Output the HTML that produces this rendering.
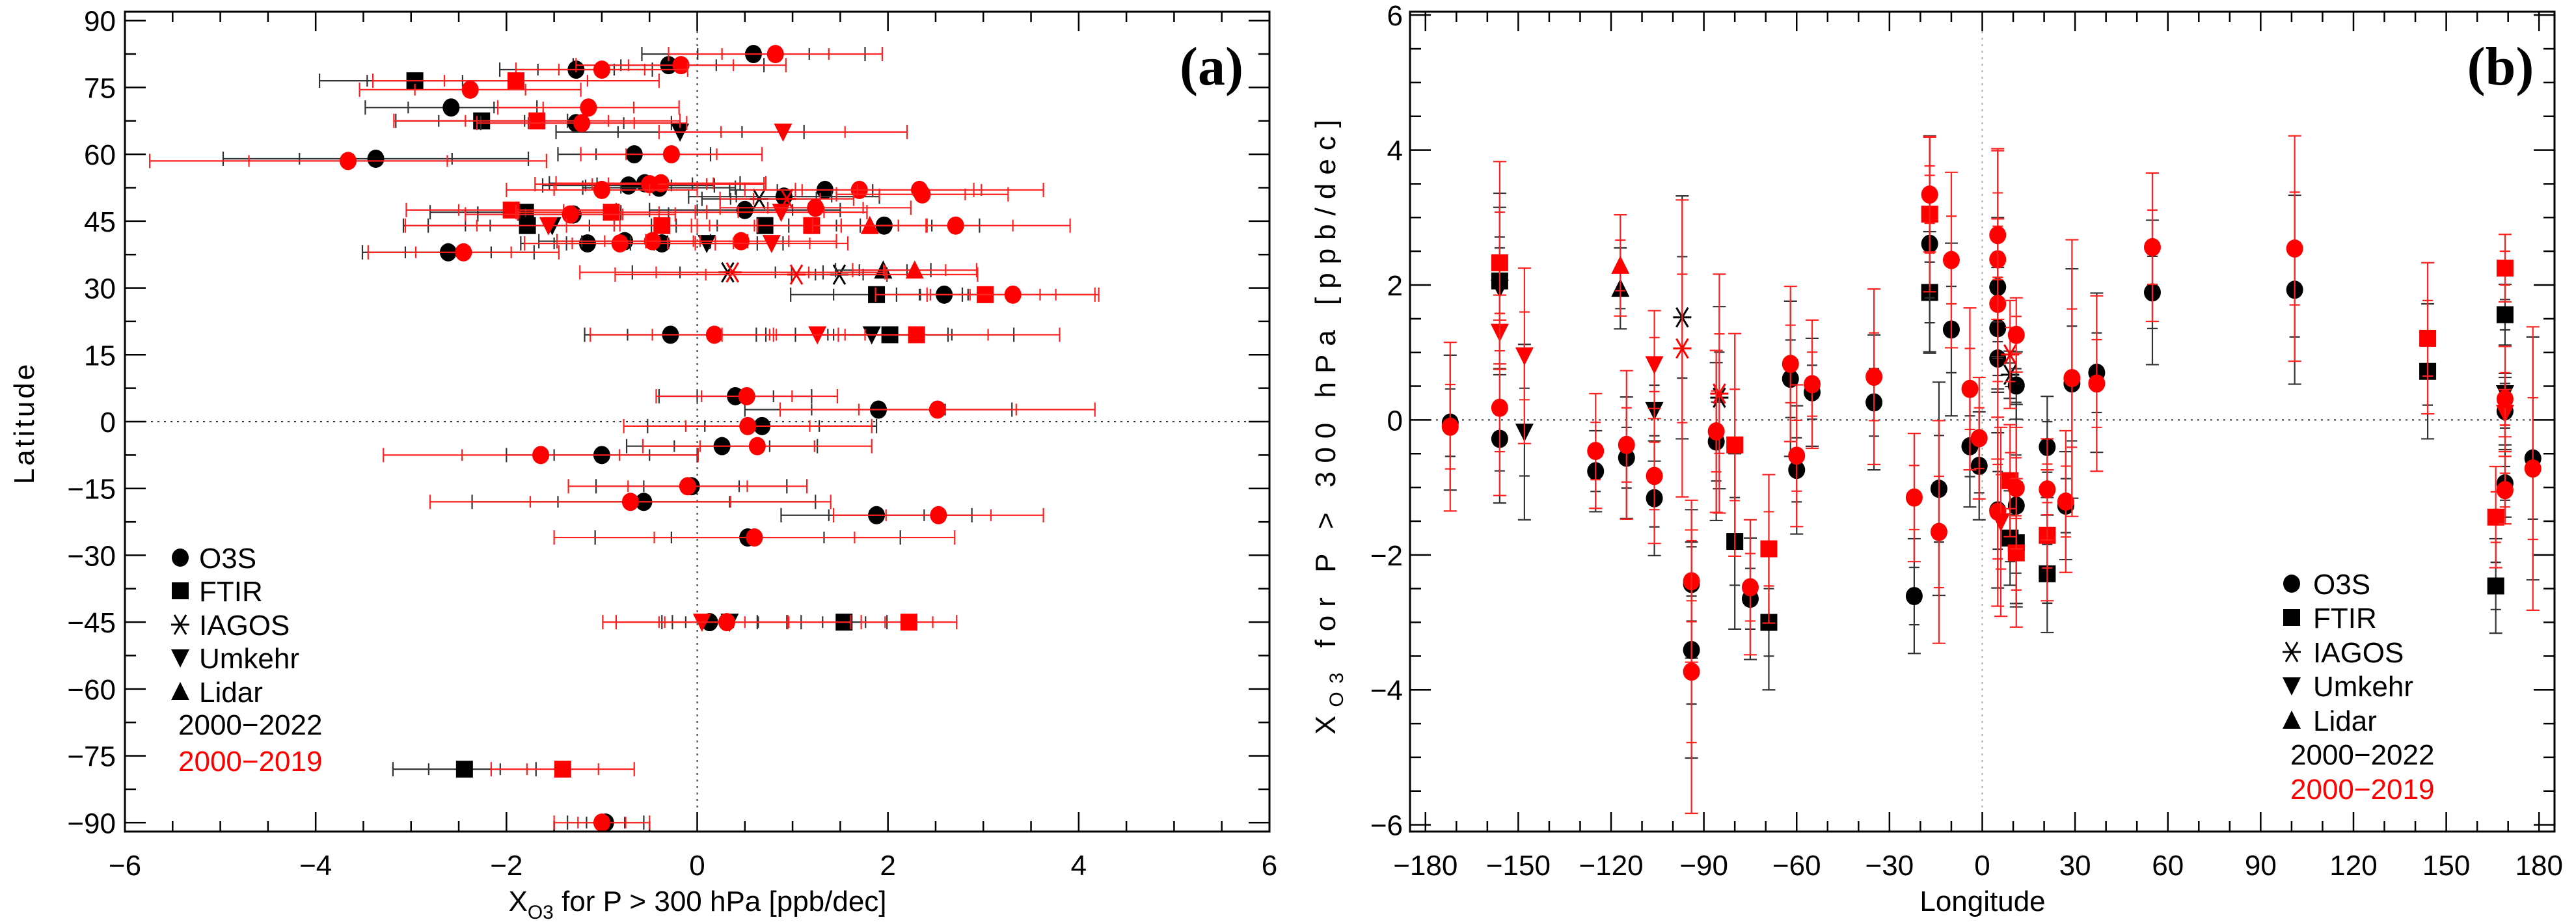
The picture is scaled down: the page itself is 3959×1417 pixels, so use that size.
<!DOCTYPE html>
<html><head><meta charset="utf-8"><style>
html,body{margin:0;padding:0;background:#fff;}
svg{display:block;font-family:"Liberation Sans",sans-serif;}
</style></head><body>
<svg id="chart" width="3959" height="1417" viewBox="0 0 3959 1417" xmlns="http://www.w3.org/2000/svg">
<g id="pa"></g>
<g id="pb"></g>
</svg>
<script>
// ---------- Panel (a) data ----------
const aLat=[82.5,82.5,80,80,79,79,76.5,76.5,74.5,70.5,70.5,67.5,67.5,67,67,65,65,59,58.5,60,60,53,53.5,53.5,53.3,52.5,52,52,52,52,51,50,50,50.5,47.5,47.5,47,47,47,48,46.5,46.5,44,44,44,44,44,44,44,44,44,40,40.5,40,40.5,40,40,40.5,40,38,38,33.5,33.5,33,33,34,34,28.5,28.5,28.5,28.5,19.5,19.5,19.5,19.5,19.5,19.5,5.7,5.7,2.7,2.7,-1,-1,-5.5,-5.5,-7.5,-7.5,-14.5,-14.5,-18,-18,-21,-21,-26,-26,-45,-45,-45,-45,-45,-45,-78,-78,-90,-90];
const aVal=[0.59,0.82,-0.30,-0.17,-1.27,-1.0,-2.96,-1.9,-2.38,-2.58,-1.14,-2.26,-1.68,-1.27,-1.21,-0.18,0.9,-3.37,-3.66,-0.66,-0.27,-0.72,-0.55,-0.38,-0.5,-0.4,1.34,-1.0,1.70,2.33,2.36,0.65,0.94,0.91,0.5,-1.95,-1.8,-0.9,0.88,1.24,-1.3,-1.33,-1.78,-1.52,-1.56,-0.37,0.71,1.2,1.81,1.96,2.71,-1.15,-0.76,-0.81,-0.47,-0.37,0.1,0.46,0.78,-2.61,-2.45,0.32,0.37,1.04,1.49,1.95,2.28,1.88,2.59,3.02,3.31,-0.28,0.18,1.26,1.83,2.02,2.3,0.4,0.52,1.9,2.52,0.68,0.53,0.26,0.63,-1.0,-1.64,-0.06,-0.1,-0.56,-0.7,1.88,2.53,0.53,0.6,0.05,0.34,0.13,0.31,1.54,2.22,-2.44,-1.41,-0.96,-1.0];
const aErr=[1.17,1.12,1.0,1.1,0.8,0.9,1.0,1.5,1.16,0.9,0.95,0.9,1.5,1.0,1.1,1.3,1.3,1.6,2.08,0.8,0.95,0.9,1.0,1.1,1.2,0.8,1.0,1.0,1.2,1.3,0.9,0.6,0.7,1.0,1.0,1.1,1.0,1.0,0.9,1.0,1.0,1.1,1.3,1.3,1.5,1.0,1.0,1.2,0.6,1.0,1.2,0.7,0.9,1.0,1.0,1.0,0.8,1.0,0.8,0.9,1.0,1.0,1.6,1.9,0.5,0.5,0.65,0.9,0.5,1.15,0.9,0.9,1.3,1.0,0.8,1.3,1.5,0.8,0.95,1.4,1.65,1.2,1.3,1.0,1.2,1.0,1.65,1.0,1.25,1.8,2.1,1.0,1.1,1.6,2.1,0.9,0.6,0.5,1.3,0.45,0.5,0.75,0.75,0.4,0.5];
const aType=["c","c","c","c","c","c","s","s","c","c","c","s","s","c","c","d","d","c","c","c","c","c","c","c","c","c","c","c","c","c","c","x","x","c","c","s","s","s","d","c","c","c","s","d","d","s","s","s","t","c","c","c","c","c","c","c","d","c","d","c","c","x","x","x","x","t","t","s","c","s","c","c","c","d","d","s","s","c","c","c","c","c","c","c","c","c","c","c","c","c","c","c","c","c","c","d","d","c","c","s","s","s","s","c","c"];
const aCol=["k","r","k","r","k","r","k","r","r","k","r","k","r","k","r","k","r","k","r","k","r","k","k","r","r","k","k","r","r","r","r","k","r","k","k","r","k","r","r","r","k","r","k","k","r","r","k","r","r","k","r","k","k","r","r","k","k","r","r","k","r","k","r","r","k","k","r","k","k","r","r","k","r","r","k","k","r","k","r","k","r","k","r","k","r","k","r","k","r","k","r","k","r","k","r","r","k","k","r","k","r","k","r","k","r"];
const aXTicks=[-6,-4,-2,0,2,4,6];
const aYTicks=[90,75,60,45,30,15,0,-15,-30,-45,-60,-75,-90];

// ---------- Panel (b) data ----------
const bLon=[-172,-172,-156,-156,-156,-156,-156,-156,-148,-148,-117,-117,-125,-125,-115,-115,-106,-106,-106,-106,-97,-97,-94,-94,-94,-94,-85,-85,-86,-86,-80,-80,-75,-75,-69,-69,-62,-62,-60,-60,-55,-55,-35,-35,-22,-22,-17,-17,-17,-17,-14,-14,-10,-10,-4,-4,-1,-1,5,5,5,5,5,5,5,5,6,9,9,9,9,11,11,11,11,11,11,21,21,21,21,27,27,29,29,37,37,55,55,101,101,144,144,166,166,169,169,169,169,169,169,169,169,178,178];
const bVal=[-0.04,-0.1,2.06,1.95,2.33,1.3,-0.28,0.18,-0.18,0.95,1.95,2.29,-0.76,-0.46,-0.56,-0.37,0.14,0.82,-1.16,-0.83,1.52,1.06,-2.43,-2.39,-3.41,-3.73,0.33,0.39,-0.32,-0.17,-1.8,-0.37,-2.65,-2.48,-3.0,-1.91,0.61,0.83,-0.74,-0.53,0.41,0.53,0.26,0.64,-2.61,-1.15,1.89,3.05,2.61,3.34,-1.02,-1.66,1.34,2.37,-0.39,0.46,-0.68,-0.27,0.91,2.38,1.36,1.97,1.72,2.74,-1.34,-1.36,-1.51,-0.9,-1.75,0.67,0.97,0.51,1.26,-1.82,-1.97,-1.27,-1.01,-2.28,-1.71,-0.4,-1.03,-1.27,-1.21,0.54,0.62,0.7,0.54,1.89,2.56,1.93,2.54,0.72,1.21,-2.46,-1.44,1.56,2.25,0.39,0.1,0.13,0.31,-0.94,-1.04,-0.57,-0.72];
const bErr=[1.0,1.25,1.3,1.2,1.5,0.55,0.95,1.3,1.3,1.3,0.6,0.75,0.6,0.85,0.9,1.1,0.75,0.8,0.85,1.0,1.8,2.2,1.1,1.2,1.6,2.1,1.35,1.77,1.17,1.2,1.3,1.65,0.9,1.0,1.0,1.1,1.15,1.15,0.95,1.05,0.8,0.95,1.0,1.3,0.85,0.95,0.9,1.15,1.6,0.85,1.58,1.65,1.28,1.3,0.9,1.2,0.8,0.9,0.5,0.6,0.9,1.03,2.3,1.25,1.15,1.4,1.4,0.83,0.7,0.35,0.8,0.5,0.55,0.9,1.1,1.5,0.9,0.87,0.97,0.75,0.75,0.8,1.05,1.7,2.05,1.18,1.3,1.07,1.1,1.4,1.67,1.0,1.12,0.7,0.75,0.45,0.5,0.3,0.35,0.5,0.78,0.5,0.5,1.8,2.1];
const bType=["c","c","s","d","s","d","c","c","d","d","t","t","c","c","c","c","d","d","c","c","x","x","c","c","c","c","x","x","c","c","s","s","c","c","s","s","c","c","c","c","c","c","c","c","c","c","s","s","c","c","c","c","c","c","c","c","c","c","c","c","c","c","c","c","c","c","d","s","s","x","x","c","c","s","s","c","c","s","s","c","c","c","c","c","c","c","c","c","c","c","c","s","s","s","s","s","s","d","d","c","c","c","c","c","c"];
const bCol=["k","r","k","k","r","r","k","r","k","r","k","r","k","r","k","r","k","r","k","r","k","r","k","r","k","r","k","r","k","r","k","r","k","r","k","r","k","r","k","r","k","r","k","r","k","r","k","r","k","r","k","r","k","r","k","r","k","r","k","r","k","k","r","r","k","r","r","r","k","k","r","k","r","k","r","k","r","k","r","k","r","k","r","k","r","k","r","k","r","k","r","k","r","k","r","k","r","k","r","k","r","k","r","k","r"];
const bXTicks=[-180,-150,-120,-90,-60,-30,0,30,60,90,120,150,180];
const bYTicks=[-6,-4,-2,0,2,4,6];

const NS="http://www.w3.org/2000/svg";
function mk(parent,tag,attrs){const e=document.createElementNS(NS,tag);for(const k in attrs)e.setAttribute(k,attrs[k]);parent.appendChild(e);return e;}
const COL={k:"#000000",r:"#ff0000"};
const EB={k:"#333333",r:"#ff2020"};

function marker(g,type,cx,cy,col){
  let el;
  if(type==="c"){el=mk(g,"ellipse",{cx:cx,cy:cy,rx:13,ry:14,fill:col});}
  else if(type==="s"){el=mk(g,"rect",{x:cx-13,y:cy-13,width:26,height:26,fill:col});}
  else if(type==="d"){el=mk(g,"polygon",{points:`${cx-14},${cy-13} ${cx+14},${cy-13} ${cx},${cy+15}`,fill:col});}
  else if(type==="t"){el=mk(g,"polygon",{points:`${cx-14},${cy+13} ${cx+14},${cy+13} ${cx},${cy-15}`,fill:col});}
  else {el=mk(g,"g",{stroke:col,"stroke-width":3});
    mk(el,"line",{x1:cx-14,y1:cy,x2:cx+14,y2:cy});
    mk(el,"line",{x1:cx-9,y1:cy-15,x2:cx+9,y2:cy+15});
    mk(el,"line",{x1:cx+9,y1:cy-15,x2:cx-9,y2:cy+15});}
  return el;
}

function frame(g,L,R,T,B){
  const f=mk(g,"rect",{x:L,y:T,width:R-L,height:B-T,fill:"none",stroke:"#000","stroke-width":3});
  
  
}
function txt(g,x,y,s,attrs,name){
  const t=mk(g,"text",Object.assign({x:x,y:y,"font-size":44,fill:"#000"},attrs||{}));
  t.textContent=s;
  
  
  return t;
}

// ================== Panel A ==================
(function(){
  const g=document.getElementById("pa");
  const L=192,R=1951,T=18,B=1278;
  const xMin=-6,xMax=6,yMin=-92,yMax=92;
  const X=v=>L+(v-xMin)/(xMax-xMin)*(R-L);
  const Y=v=>B-(v-yMin)/(yMax-yMin)*(B-T);
  const z1=mk(g,"line",{x1:L,x2:R,y1:Y(0),y2:Y(0),stroke:"#333","stroke-width":2,"stroke-dasharray":"3,7"});
  
  
  const z2=mk(g,"line",{x1:X(0),x2:X(0),y1:T,y2:B,stroke:"#333","stroke-width":2,"stroke-dasharray":"3,7"});
  
  
  const tg=mk(g,"g",{stroke:"#000","stroke-width":2.5});
  
  
  for(let v=-6;v<=6.001;v+=0.5){const maj=Math.abs(v-Math.round(v/2)*2)<1e-6;const len=maj?30:16;
    mk(tg,"line",{x1:X(v),x2:X(v),y1:B,y2:B-len});mk(tg,"line",{x1:X(v),x2:X(v),y1:T,y2:T+len});}
  for(let v=-90;v<=90;v+=7.5){const maj=(v%15===0);const len=maj?32:17;
    mk(tg,"line",{x1:L,x2:L+len,y1:Y(v),y2:Y(v)});mk(tg,"line",{x1:R,x2:R-len,y1:Y(v),y2:Y(v)});}
  aXTicks.forEach(v=>{txt(g,X(v),1345,String(v).replace("-","\u2212"),{"text-anchor":"middle"},"x-tick-label");});
  aYTicks.forEach(v=>{txt(g,178,Y(v)+16,String(v).replace("-","\u2212"),{"text-anchor":"end"},"y-tick-label");});
  const order=[];aCol.forEach((c,i)=>{if(c==="k")order.push(i);});aCol.forEach((c,i)=>{if(c==="r")order.push(i);});
  order.forEach(i=>{
    const y=Y(aLat[i]),x=X(aVal[i]),c=aCol[i];
    const eg=mk(g,"g",{stroke:EB[c],"stroke-width":2.2});
    
    
    const x1=X(aVal[i]-aErr[i]),x2=X(aVal[i]+aErr[i]);
    mk(eg,"line",{x1:x1,x2:x2,y1:y,y2:y});
    [x1,x2].forEach(xx=>mk(eg,"line",{x1:xx,x2:xx,y1:y-11,y2:y+11}));
    [X(aVal[i]-aErr[i]*0.5),X(aVal[i]+aErr[i]*0.5)].forEach(xx=>mk(eg,"line",{x1:xx,x2:xx,y1:y-9,y2:y+9}));
    const m=marker(g,aType[i],x,y,COL[c]);
    
    
  });
  frame(g,L,R,T,B);
  txt(g,0,0,"Latitude",{"text-anchor":"middle",transform:"translate(52,650) rotate(-90)","letter-spacing":"4"},"y-axis-title");
  const xt=mk(g,"text",{x:1072,y:1400,"font-size":44,"text-anchor":"middle",fill:"#000"});
  xt.innerHTML='X<tspan font-size="30" dy="12">O3</tspan><tspan dy="-12"> for P &gt; 300 hPa [ppb/dec]</tspan>';
  
  
  txt(g,1862,130,"(a)",{"font-family":"Liberation Serif, serif","font-weight":"bold","font-size":84,"text-anchor":"middle"},"panel-label-a");
  const lg=mk(g,"g",{});
  
  
  const lt=["c","s","x","d","t"],ln=["O3S","FTIR","IAGOS","Umkehr","Lidar"],ly=[857,908,960,1011,1063];
  lt.forEach((t,k)=>{const m=marker(lg,t,277,ly[k],"#000");
    txt(lg,306,ly[k]+16,ln[k],{},"legend-entry");});
  txt(lg,274,1129,"2000\u22122022",{},"legend-period-black");
  txt(lg,274,1185,"2000\u22122019",{fill:"#ff0000"},"legend-period-red");
})();

// ================== Panel B ==================
(function(){
  const g=document.getElementById("pb");
  const L=2167,R=3926,T=18,B=1278;
  const xMin=-185,xMax=185,yMin=-6.1,yMax=6.05;
  const X=v=>L+(v-xMin)/(xMax-xMin)*(R-L);
  const Y=v=>B-(v-yMin)/(yMax-yMin)*(B-T);
  const z1=mk(g,"line",{x1:L,x2:R,y1:Y(0),y2:Y(0),stroke:"#333","stroke-width":2,"stroke-dasharray":"3,7"});
  
  
  const z2=mk(g,"line",{x1:X(0),x2:X(0),y1:T,y2:B,stroke:"#aaa","stroke-width":2,"stroke-dasharray":"3,7"});
  
  
  const tg=mk(g,"g",{stroke:"#000","stroke-width":2.5});
  
  
  for(let v=-180;v<=180;v+=10){const maj=(v%30===0);const len=maj?30:16;
    mk(tg,"line",{x1:X(v),x2:X(v),y1:B,y2:B-len});mk(tg,"line",{x1:X(v),x2:X(v),y1:T,y2:T+len});}
  for(let v=-6;v<=6.001;v+=0.5){const maj=Math.abs(v-Math.round(v/2)*2)<1e-6;const len=maj?32:17;
    mk(tg,"line",{x1:L,x2:L+len,y1:Y(v),y2:Y(v)});mk(tg,"line",{x1:R,x2:R-len,y1:Y(v),y2:Y(v)});}
  bXTicks.forEach(v=>{txt(g,X(v),1345,String(v).replace("-","\u2212"),{"text-anchor":"middle"},"x-tick-label");});
  bYTicks.forEach(v=>{txt(g,2156,Y(v)+16,String(v).replace("-","\u2212"),{"text-anchor":"end"},"y-tick-label");});
  const order=[];bCol.forEach((c,i)=>{if(c==="k")order.push(i);});bCol.forEach((c,i)=>{if(c==="r")order.push(i);});
  order.forEach(i=>{
    const x=X(bLon[i]),y=Y(bVal[i]),c=bCol[i];
    const eg=mk(g,"g",{stroke:EB[c],"stroke-width":2.2});
    
    
    const y1=Y(bVal[i]-bErr[i]),y2=Y(bVal[i]+bErr[i]);
    mk(eg,"line",{x1:x,x2:x,y1:y1,y2:y2});
    [y1,y2].forEach(yy=>mk(eg,"line",{x1:x-10,x2:x+10,y1:yy,y2:yy}));
    [Y(bVal[i]-bErr[i]*0.5),Y(bVal[i]+bErr[i]*0.5)].forEach(yy=>mk(eg,"line",{x1:x-8,x2:x+8,y1:yy,y2:yy}));
    const m=marker(g,bType[i],x,y,COL[c]);
    
    
  });
  frame(g,L,R,T,B);
  txt(g,3047,1400,"Longitude",{"text-anchor":"middle"},"x-axis-title");
  const yt=mk(g,"text",{x:0,y:0,"font-size":44,"text-anchor":"middle",fill:"#000","letter-spacing":"13",transform:"translate(2052,650) rotate(-90)"});
  yt.innerHTML='X<tspan font-size="30" dy="12">O3</tspan><tspan dy="-12"> for P &gt; 300 hPa [ppb/dec]</tspan>';
  
  
  txt(g,3843,130,"(b)",{"font-family":"Liberation Serif, serif","font-weight":"bold","font-size":84,"text-anchor":"middle"},"panel-label-b");
  const lg=mk(g,"g",{});
  
  
  const lt=["c","s","x","d","t"],ln=["O3S","FTIR","IAGOS","Umkehr","Lidar"],ly=[897,949,1002,1054,1107];
  lt.forEach((t,k)=>{const m=marker(lg,t,3522,ly[k],"#000");
    txt(lg,3555,ly[k]+16,ln[k],{},"legend-entry");});
  txt(lg,3520,1175,"2000\u22122022",{},"legend-period-black");
  txt(lg,3520,1228,"2000\u22122019",{fill:"#ff0000"},"legend-period-red");
})();
</script>
</body></html>
